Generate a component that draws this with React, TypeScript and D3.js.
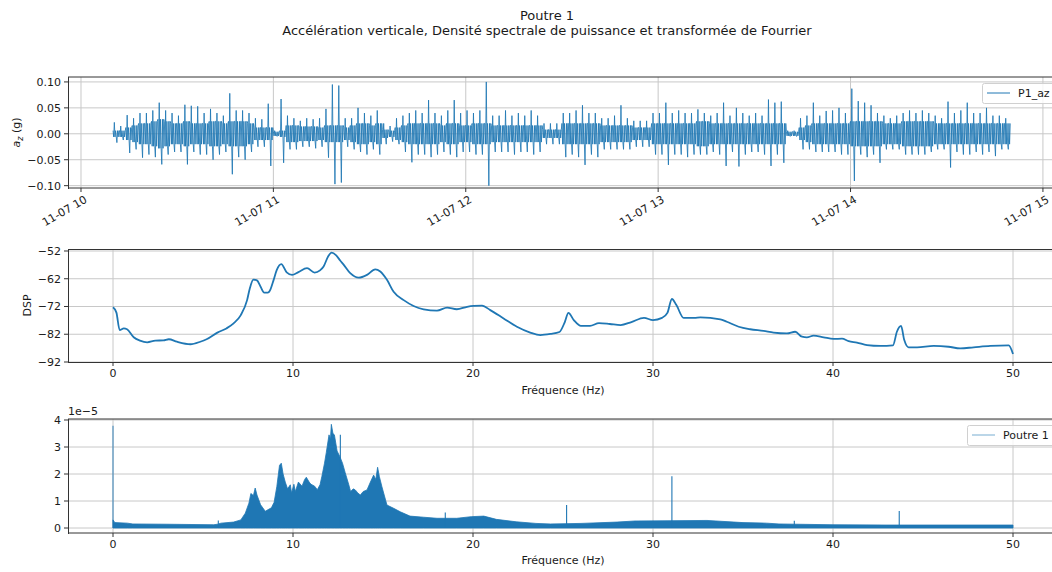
import React from "react";
import * as d3 from "d3";

const W = 1052;
const H = 572;
const BLUE = "#1f77b4";
const FONT = "DejaVu Sans, sans-serif";

// ---------- Top panel : vertical acceleration envelope (2-minute slots from 10:10) ----------
const slotStartMinute = 10;
const slotMinutes = 2;
const azHi = [
  0.022, 0.015, 0.036, 0.03, 0.04, 0.04, 0.045, 0.06, 0.045, 0.04,
  0.035, 0.056, 0.054, 0.053, 0.04, 0.048, 0.04, 0.035, 0.078, 0.045,
  0.045, 0.04, 0.03, 0.028, 0.058, 0.006, 0.067, 0.035, 0.03, 0.025,
  0.03, 0.028, 0.03, 0.048, 0.095, 0.093, 0.03, 0.03, 0.05, 0.04,
  0.035, 0.045, 0.02, 0.015, 0.03, 0.035, 0.04, 0.045, 0.04, 0.065,
  0.04, 0.035, 0.045, 0.065, 0.04, 0.045, 0.04, 0.045, 0.1, 0.035,
  0.035, 0.045, 0.035, 0.04, 0.035, 0.045, 0.035, 0.02, 0.02, 0.02,
  0.04, 0.04, 0.045, 0.055, 0.04, 0.04, 0.03, 0.03, 0.035, 0.055,
  0.03, 0.025, 0.025, 0.025, 0.04, 0.04, 0.06, 0.04, 0.045, 0.04,
  0.04, 0.047, 0.04, 0.035, 0.04, 0.06, 0.035, 0.05, 0.04, 0.035,
  0.04, 0.035, 0.066, 0.06, 0.062, 0.006, 0.006, 0.03, 0.035, 0.06,
  0.035, 0.044, 0.045, 0.05, 0.04, 0.087, 0.063, 0.06, 0.055, 0.04,
  0.035, 0.03, 0.035, 0.04, 0.045, 0.04, 0.045, 0.04, 0.035, 0.03,
  0.062, 0.04, 0.045, 0.06, 0.04, 0.04, 0.05, 0.035, 0.035, 0.03,
];
const azLo = [
  -0.017, -0.012, -0.037, -0.03, -0.046, -0.04, -0.045, -0.059, -0.04, -0.035,
  -0.035, -0.059, -0.035, -0.04, -0.04, -0.05, -0.04, -0.035, -0.078, -0.045,
  -0.05, -0.035, -0.025, -0.025, -0.062, -0.005, -0.056, -0.03, -0.03, -0.025,
  -0.025, -0.028, -0.025, -0.046, -0.097, -0.094, -0.025, -0.03, -0.035, -0.04,
  -0.03, -0.04, -0.02, -0.015, -0.02, -0.035, -0.055, -0.04, -0.04, -0.045,
  -0.04, -0.035, -0.04, -0.045, -0.035, -0.035, -0.04, -0.04, -0.1, -0.035,
  -0.035, -0.035, -0.04, -0.035, -0.035, -0.04, -0.035, -0.02, -0.02, -0.02,
  -0.045, -0.04, -0.045, -0.06, -0.04, -0.045, -0.03, -0.03, -0.03, -0.03,
  -0.03, -0.025, -0.025, -0.025, -0.04, -0.04, -0.06, -0.04, -0.04, -0.045,
  -0.04, -0.04, -0.04, -0.035, -0.04, -0.062, -0.035, -0.063, -0.04, -0.035,
  -0.035, -0.04, -0.062, -0.04, -0.056, -0.005, -0.005, -0.03, -0.03, -0.035,
  -0.035, -0.035, -0.035, -0.04, -0.04, -0.091, -0.04, -0.045, -0.04, -0.056,
  -0.03, -0.03, -0.03, -0.04, -0.04, -0.04, -0.04, -0.035, -0.03, -0.03,
  -0.065, -0.035, -0.04, -0.04, -0.035, -0.04, -0.035, -0.043, -0.03, -0.03,
];
const azBand = [
  0.006, 0.006, 0.012, 0.016, 0.02, 0.02, 0.024, 0.028, 0.024, 0.02,
  0.02, 0.024, 0.02, 0.02, 0.02, 0.024, 0.024, 0.02, 0.024, 0.024,
  0.024, 0.02, 0.012, 0.012, 0.012, 0.004, 0.006, 0.016, 0.016, 0.014,
  0.014, 0.014, 0.012, 0.016, 0.016, 0.016, 0.012, 0.016, 0.02, 0.02,
  0.016, 0.02, 0.008, 0.006, 0.012, 0.016, 0.02, 0.02, 0.02, 0.02,
  0.02, 0.016, 0.02, 0.02, 0.016, 0.016, 0.02, 0.02, 0.02, 0.016,
  0.016, 0.016, 0.016, 0.016, 0.016, 0.016, 0.016, 0.008, 0.008, 0.008,
  0.02, 0.02, 0.02, 0.02, 0.02, 0.02, 0.016, 0.016, 0.016, 0.016,
  0.016, 0.012, 0.012, 0.012, 0.02, 0.02, 0.02, 0.02, 0.02, 0.02,
  0.02, 0.024, 0.024, 0.02, 0.02, 0.02, 0.02, 0.02, 0.02, 0.02,
  0.02, 0.02, 0.02, 0.02, 0.02, 0.004, 0.004, 0.012, 0.016, 0.02,
  0.02, 0.02, 0.02, 0.02, 0.02, 0.024, 0.024, 0.024, 0.024, 0.024,
  0.02, 0.02, 0.02, 0.024, 0.024, 0.024, 0.024, 0.024, 0.02, 0.02,
  0.02, 0.02, 0.02, 0.02, 0.02, 0.02, 0.02, 0.02, 0.02, 0.02,
];
const azTicks = [-0.1, -0.05, 0, 0.05, 0.1];
const hourTicks = [10, 11, 12, 13, 14, 15];

// ---------- Middle panel : power spectral density (dB) ----------
const dspFreq = [
  0, 0.19, 0.37, 0.6, 0.78, 1.15, 1.5, 1.9, 2.35, 2.8, 3.1, 3.55, 4.3, 4.85, 5.2, 5.8, 6.3, 6.7, 7.1, 7.45,
  7.6, 7.8, 8.0, 8.2, 8.4, 8.6, 8.75, 8.92, 9.1, 9.35, 9.65, 9.95, 10.3, 10.78, 11.2, 11.5, 11.7, 11.95, 12.15, 12.4,
  12.63, 12.8, 13.18, 13.65, 14.11, 14.57, 14.85, 15.22, 15.59, 16.15, 16.7, 17.26, 18.0, 18.56, 19.1, 19.67, 20.04, 20.5, 20.96, 21.7,
  22.44, 23.18, 23.74, 24.3, 24.8, 25.1, 25.3, 25.6, 26.0, 26.5, 27.0, 27.6, 28.2, 28.8, 29.5, 30.0, 30.5, 30.8, 31.05, 31.3,
  31.7, 32.3, 32.63, 33.74, 34.1, 34.76, 35.4, 36.14, 36.7, 37.44, 37.9, 38.28, 38.55, 38.92, 39.48, 40.03, 40.5, 40.87, 41.33, 41.89,
  42.63, 43.33, 43.55, 43.78, 43.96, 44.2, 44.67, 45.59, 46.42, 47.07, 47.81, 48.74, 49.76, 50.0,
];
const dspVal = [
  -72.3, -74.2, -80.5, -79.9, -80.2, -83.1, -84.3, -84.9, -84.3, -84.2, -83.8, -84.7, -85.6, -84.7, -83.8, -81.4, -79.9, -78.1, -75.1, -69.7,
  -65.5, -62.3, -62.6, -64.9, -67.0, -67.0, -65.8, -62.5, -58.8, -56.7, -59.7, -60.6, -59.6, -58.2, -59.8, -59.0, -57.6, -54.0, -52.6, -53.6,
  -55.5, -56.8, -60.0, -61.6, -60.6, -58.6, -59.4, -62.4, -66.7, -69.7, -71.8, -73.0, -73.5, -72.4, -73.0, -72.1, -71.8, -71.7, -73.3, -76.3,
  -79.3, -81.4, -82.3, -81.9, -81.2, -77.6, -74.3, -76.9, -79.0, -79.0, -78.0, -78.3, -78.7, -77.6, -76.1, -76.9, -76.1, -74.3, -69.3, -71.5,
  -76.1, -76.1, -75.9, -76.6, -77.5, -79.3, -80.2, -80.8, -81.4, -81.7, -81.1, -82.9, -83.1, -82.5, -83.1, -83.7, -83.6, -84.5, -85.0, -85.9,
  -86.2, -86.0, -81.1, -79.0, -84.1, -86.7, -86.7, -86.2, -86.5, -87.1, -86.7, -86.2, -86.0, -89.1,
];
const dspTicks = [-92, -82, -72, -62, -52];
const freqTicks = [0, 10, 20, 30, 40, 50];

// ---------- Bottom panel : Fourier transform amplitude (x1e-5) ----------
const fftEnvFreq = [
  0, 0.1, 0.8, 1.1, 3, 5.6, 5.8, 6.0, 6.7, 7.1, 7.35, 7.55, 7.66, 7.8, 7.9, 8.0, 8.2, 8.46, 8.8, 8.95,
  9.1, 9.25, 9.35, 9.45, 9.57, 9.7, 9.85, 9.92, 10.05, 10.13, 10.3, 10.5, 10.65, 10.74, 10.9, 11.0, 11.2, 11.35, 11.5, 11.6,
  11.75, 11.85, 12.0, 12.08, 12.13, 12.22, 12.3, 12.45, 12.6, 12.75, 12.9, 13.1, 13.2, 13.35, 13.46, 13.6, 13.74, 13.9, 14.11, 14.3,
  14.48, 14.6, 14.7, 14.8, 14.94, 15.22, 15.59, 15.96, 16.5, 17.25, 18, 19.1, 19.9, 20.6, 21.3, 22.4, 23.5, 24.3, 26, 28,
  29, 31, 33, 34, 35, 36.3, 37, 40, 43, 50,
];
const fftEnvVal = [
  0.3, 0.2, 0.18, 0.15, 0.14, 0.12, 0.14, 0.18, 0.22, 0.3, 0.55, 0.92, 1.28, 1.2, 1.48, 1.22, 0.86, 0.62, 0.75, 0.95,
  1.53, 2.32, 2.4, 2.0, 1.7, 1.45, 1.6, 1.3, 1.62, 1.35, 1.7, 1.55, 1.8, 1.88, 1.7, 1.62, 1.55, 1.42, 1.6, 1.9,
  2.4, 2.8, 3.45, 3.3, 3.84, 3.5, 3.45, 2.85, 2.65, 2.4, 2.05, 1.6, 1.35, 1.45, 1.41, 1.3, 1.22, 1.35, 1.41, 1.7,
  1.96, 1.8, 2.25, 1.9, 1.53, 0.85, 0.73, 0.6, 0.44, 0.4, 0.36, 0.36, 0.42, 0.44, 0.32, 0.23, 0.17, 0.15, 0.17, 0.22,
  0.26, 0.27, 0.28, 0.24, 0.2, 0.18, 0.15, 0.12, 0.11, 0.11,
];
const fftSpikeFreq = [0, 5.85, 12.63, 18.46, 25.2, 31.05, 37.85, 43.68];
const fftSpikeVal = [3.79, 0.28, 3.45, 0.57, 0.85, 1.92, 0.27, 0.63];
const fftTicks = [0, 1, 2, 3, 4];

// ---------- layout ----------
const plotL = 68;
const plotR = 1058;
const top1 = 77, bot1 = 188;
const top2 = 249, bot2 = 362;
const top3 = 419, bot3 = 533;

const base = new Date(2023, 10, 7, 10, 0, 0);
const atMinute = (m: number) => new Date(base.getTime() + m * 60000);

const xTime = d3.scaleTime().domain([atMinute(-4.05), atMinute(304.7)]).range([plotL, plotR]);
const yAz = d3.scaleLinear().domain([-0.1045, 0.1095]).range([bot1, top1]);
const xFreq = d3.scaleLinear().domain([-2.5, 52.5]).range([plotL, plotR]);
const yDsp = d3.scaleLinear().domain([-92, -51.28]).range([bot2, top2]);
const yFft = d3.scaleLinear().domain([-0.185, 4.037]).range([bot3, top3]);

const minus = (s: string) => s.replace(/-/g, "\u2212");
const timeFmt = d3.timeFormat("%m-%d %H");

const GRID = "#c8c8c8";
const SPINE = "#333333";
const TXT = "#1a1a1a";

function Frame({ top, bottom, off }: { top: number; bottom: number; off: number }) {
  return (
    <g fill="none" stroke={SPINE} strokeWidth={1}>
      <line x1={plotL} x2={plotR} y1={top + off} y2={top + off} />
      <line x1={plotL} x2={plotR} y1={bottom + off} y2={bottom + off} />
      <line x1={plotL + 0.5} x2={plotL + 0.5} y1={top} y2={bottom + 1} />
    </g>
  );
}

export default function App() {
  const azPts: [number, number][] = [];
  azHi.forEach((hi, i) => {
    const t0 = slotStartMinute + i * slotMinutes;
    const lo = azLo[i];
    const b = azBand[i];
    const seq = [b, -b, hi, -b, b, -b, lo, b, -b, b];
    seq.forEach((v, k) => azPts.push([t0 + (slotMinutes * k) / seq.length, v]));
  });
  const azLine = d3
    .line<[number, number]>()
    .x((d) => xTime(atMinute(d[0])))
    .y((d) => yAz(d[1]))(azPts) as string;

  const dspLine = d3
    .line<number>()
    .x((_, i) => xFreq(dspFreq[i]))
    .y((d) => yDsp(d))
    .curve(d3.curveMonotoneX)(dspVal) as string;

  const fftArea = d3
    .area<number>()
    .x((_, i) => xFreq(fftEnvFreq[i]))
    .y0(yFft(0))
    .y1((d) => yFft(d))(fftEnvVal) as string;

  return (
    <svg width={W} height={H} viewBox={`0 0 ${W} ${H}`} style={{ display: "block", position: "absolute", left: 0, top: 0, background: "#fff" }} fontFamily={FONT}>
      <rect width={W} height={H} fill="#fff" />
      <text x={547} y={19.5} textAnchor="middle" fontSize={13} fill={TXT}>Poutre 1</text>
      <text x={547} y={35} textAnchor="middle" fontSize={13} fill={TXT}>Accélération verticale, Densité spectrale de puissance et transformée de Fourrier</text>

      {/* ================= TOP PANEL ================= */}
      <g>
        <clipPath id="c1"><rect x={plotL} y={top1} width={plotR - plotL} height={bot1 - top1} /></clipPath>
        <g stroke={GRID} strokeWidth={1}>
          {hourTicks.map((h) => (
            <line key={h} x1={xTime(atMinute((h - 10) * 60))} x2={xTime(atMinute((h - 10) * 60))} y1={top1} y2={bot1} />
          ))}
          {azTicks.map((t) => (
            <line key={t} x1={plotL} x2={plotR} y1={yAz(t)} y2={yAz(t)} />
          ))}
        </g>
        <path d={azLine} fill="none" stroke={BLUE} strokeWidth={0.85} clipPath="url(#c1)" />
        <Frame top={top1} bottom={bot1} off={0} />
        {azTicks.map((t) => (
          <g key={t}>
            <line x1={plotL - 4} x2={plotL} y1={yAz(t)} y2={yAz(t)} stroke={SPINE} />
            <text x={plotL - 7} y={yAz(t)} dy="0.35em" textAnchor="end" fontSize={11} fill={TXT}>{minus(d3.format(".2f")(t))}</text>
          </g>
        ))}
        {hourTicks.map((h) => {
          const x = xTime(atMinute((h - 10) * 60));
          return (
            <g key={h}>
              <line x1={x} x2={x} y1={bot1} y2={bot1 + 4} stroke={SPINE} />
              <text transform={`translate(${x + 3},${bot1 + 7}) rotate(-30)`} textAnchor="end" dy="0.71em" fontSize={11} fill={TXT}>
                {timeFmt(atMinute((h - 10) * 60))}
              </text>
            </g>
          );
        })}
        <text transform={`translate(20,${(top1 + bot1) / 2}) rotate(-90)`} textAnchor="middle" fontSize={11} fill={TXT}>
          <tspan fontStyle="italic">a</tspan>
          <tspan fontStyle="italic" fontSize={8} dy={3}>z</tspan>
          <tspan dy={-3}> (g)</tspan>
        </text>
        <g>
          <rect x={982.5} y={83.5} width={80} height={20} rx={2} fill="#fff" fillOpacity={0.8} stroke="#d0d0d0" />
          <line x1={987} x2={1010} y1={93} y2={93} stroke={BLUE} strokeWidth={1} />
          <text x={1018} y={93} dy="0.35em" fontSize={11} fill={TXT}>P1_az</text>
        </g>
      </g>

      {/* ================= MIDDLE PANEL ================= */}
      <g>
        <g stroke={GRID} strokeWidth={1}>
          {freqTicks.map((f) => (
            <line key={f} x1={xFreq(f)} x2={xFreq(f)} y1={top2} y2={bot2} />
          ))}
          {dspTicks.map((t) => (
            <line key={t} x1={plotL} x2={plotR} y1={yDsp(t)} y2={yDsp(t)} />
          ))}
        </g>
        <path d={dspLine} fill="none" stroke={BLUE} strokeWidth={1.8} strokeLinejoin="round" />
        <Frame top={top2} bottom={bot2} off={0.5} />
        {dspTicks.map((t) => (
          <g key={t}>
            <line x1={plotL - 4} x2={plotL} y1={yDsp(t)} y2={yDsp(t)} stroke={SPINE} />
            <text x={plotL - 7} y={yDsp(t)} dy="0.35em" textAnchor="end" fontSize={11} fill={TXT}>{minus(String(t))}</text>
          </g>
        ))}
        {freqTicks.map((f) => (
          <g key={f}>
            <line x1={xFreq(f)} x2={xFreq(f)} y1={bot2} y2={bot2 + 4} stroke={SPINE} />
            <text x={xFreq(f)} y={bot2 + 7} dy="0.76em" textAnchor="middle" fontSize={11} fill={TXT}>{f}</text>
          </g>
        ))}
        <text transform={`translate(31,${(top2 + bot2) / 2}) rotate(-90)`} textAnchor="middle" fontSize={11} fill={TXT}>DSP</text>
        <text x={(plotL + plotR) / 2} y={394} textAnchor="middle" fontSize={11} fill={TXT}>Fréquence (Hz)</text>
      </g>

      {/* ================= BOTTOM PANEL ================= */}
      <g>
        <g stroke={GRID} strokeWidth={1}>
          {freqTicks.map((f) => (
            <line key={f} x1={xFreq(f)} x2={xFreq(f)} y1={top3} y2={bot3} />
          ))}
          {fftTicks.map((t) => (
            <line key={t} x1={plotL} x2={plotR} y1={yFft(t)} y2={yFft(t)} />
          ))}
        </g>
        <path d={fftArea} fill={BLUE} stroke={BLUE} strokeWidth={0.8} strokeLinejoin="round" />
        {fftSpikeFreq.map((f, i) => (
          <line key={i} x1={xFreq(f)} x2={xFreq(f)} y1={yFft(0)} y2={yFft(fftSpikeVal[i])} stroke={BLUE} strokeWidth={1.1} strokeOpacity={i === 0 ? 0.8 : 1} />
        ))}
        <Frame top={top3} bottom={bot3} off={0} />
        {fftTicks.map((t) => (
          <g key={t}>
            <line x1={plotL - 4} x2={plotL} y1={yFft(t)} y2={yFft(t)} stroke={SPINE} />
            <text x={plotL - 7} y={yFft(t)} dy="0.35em" textAnchor="end" fontSize={11} fill={TXT}>{t}</text>
          </g>
        ))}
        {freqTicks.map((f) => (
          <g key={f}>
            <line x1={xFreq(f)} x2={xFreq(f)} y1={bot3} y2={bot3 + 4} stroke={SPINE} />
            <text x={xFreq(f)} y={bot3 + 7} dy="0.76em" textAnchor="middle" fontSize={11} fill={TXT}>{f}</text>
          </g>
        ))}
        <text x={plotL} y={415} fontSize={11} fill={TXT}>1e{"\u2212"}5</text>
        <text x={(plotL + plotR) / 2} y={564} textAnchor="middle" fontSize={11} fill={TXT}>Fréquence (Hz)</text>
        <g>
          <rect x={967.5} y={425.5} width={95} height={20} rx={2} fill="#fff" fillOpacity={0.8} stroke="#d0d0d0" />
          <line x1={972} x2={995} y1={435} y2={435} stroke={BLUE} strokeOpacity={0.5} strokeWidth={1.2} />
          <text x={1003} y={435} dy="0.35em" fontSize={11} fill={TXT}>Poutre 1</text>
        </g>
      </g>
    </svg>
  );
}
